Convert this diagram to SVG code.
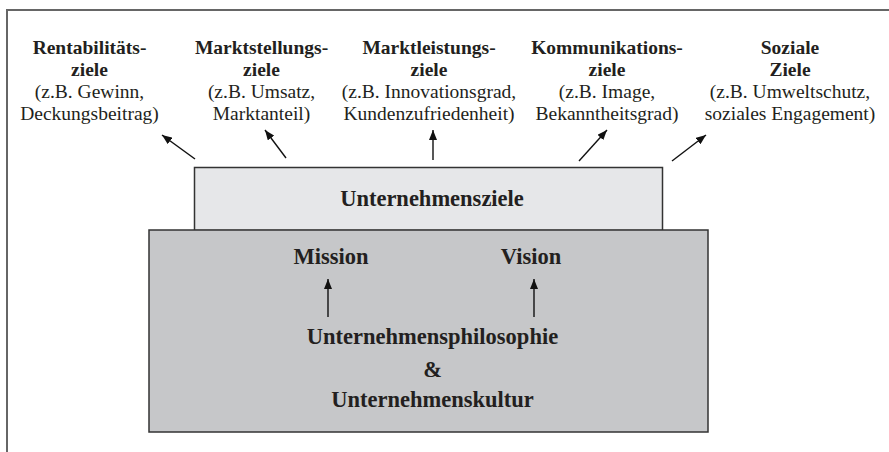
<svg xmlns="http://www.w3.org/2000/svg" width="889" height="452" viewBox="0 0 889 452">
<style>
.t{font-family:"Liberation Serif","Times New Roman",serif;fill:#231f20;text-anchor:middle}
.s{font-size:19.5px}
.b{font-weight:bold}
.L{font-size:22.5px;font-weight:bold}
.box{stroke:#333;stroke-width:1.5}
.c{stroke:#111;stroke-width:1.4;fill:none;marker-end:url(#ah)}
</style>
<defs>
<marker id="ah" viewBox="0 0 10 8" refX="10" refY="4" markerWidth="10" markerHeight="8" markerUnits="userSpaceOnUse" orient="auto">
<path d="M0,0 L10,4 L0,8 z" fill="#111"/>
</marker>
</defs>
<rect width="889" height="452" fill="#fff"/>
<path d="M7,452 V10 H889" fill="none" stroke="#666" stroke-width="2"/>
<g id="ziel1">
<text class="t s b" x="89.5" y="54">Rentabilitäts-</text>
<text class="t s b" x="89.5" y="76">ziele</text>
<text class="t s" x="89.5" y="98">(z.B. Gewinn,</text>
<text class="t s" x="89.5" y="120">Deckungsbeitrag)</text>
</g>
<g id="ziel2">
<text class="t s b" x="261.5" y="54">Marktstellungs-</text>
<text class="t s b" x="261.5" y="76">ziele</text>
<text class="t s" x="261.5" y="98">(z.B. Umsatz,</text>
<text class="t s" x="261.5" y="120">Marktanteil)</text>
</g>
<g id="ziel3">
<text class="t s b" x="429" y="54">Marktleistungs-</text>
<text class="t s b" x="429" y="76">ziele</text>
<text class="t s" x="429" y="98">(z.B. Innovationsgrad,</text>
<text class="t s" x="429" y="120">Kundenzufriedenheit)</text>
</g>
<g id="ziel4">
<text class="t s b" x="607" y="54">Kommunikations-</text>
<text class="t s b" x="607" y="76">ziele</text>
<text class="t s" x="607" y="98">(z.B. Image,</text>
<text class="t s" x="607" y="120">Bekanntheitsgrad)</text>
</g>
<g id="ziel5">
<text class="t s b" x="790" y="54">Soziale</text>
<text class="t s b" x="790" y="76">Ziele</text>
<text class="t s" x="790" y="98">(z.B. Umweltschutz,</text>
<text class="t s" x="790" y="120">soziales Engagement)</text>
</g>
<g id="unternehmensziele">
<rect class="box" x="194.5" y="167.5" width="468" height="63" fill="#e6e7e9"/>
<text class="t L" x="432" y="206">Unternehmensziele</text>
</g>
<g id="basis">
<rect class="box" x="149" y="230" width="559" height="202" fill="#c6c7c9"/>
<text class="t L" x="331" y="264">Mission</text>
<text class="t L" x="531" y="264">Vision</text>
<text class="t L" x="432.5" y="344">Unternehmensphilosophie</text>
<text class="t L" x="432.5" y="377">&amp;</text>
<text class="t L" x="432.5" y="407">Unternehmenskultur</text>
</g>
<g id="connectors">
<line class="c" x1="195" y1="159" x2="162" y2="135"/>
<line class="c" x1="286" y1="158" x2="265" y2="130"/>
<line class="c" x1="433" y1="160" x2="433" y2="130"/>
<line class="c" x1="579" y1="161" x2="607" y2="130"/>
<line class="c" x1="672" y1="161" x2="706" y2="135"/>
<line class="c" x1="328" y1="317" x2="328" y2="279"/>
<line class="c" x1="534" y1="317" x2="534" y2="279"/>
</g>
</svg>
